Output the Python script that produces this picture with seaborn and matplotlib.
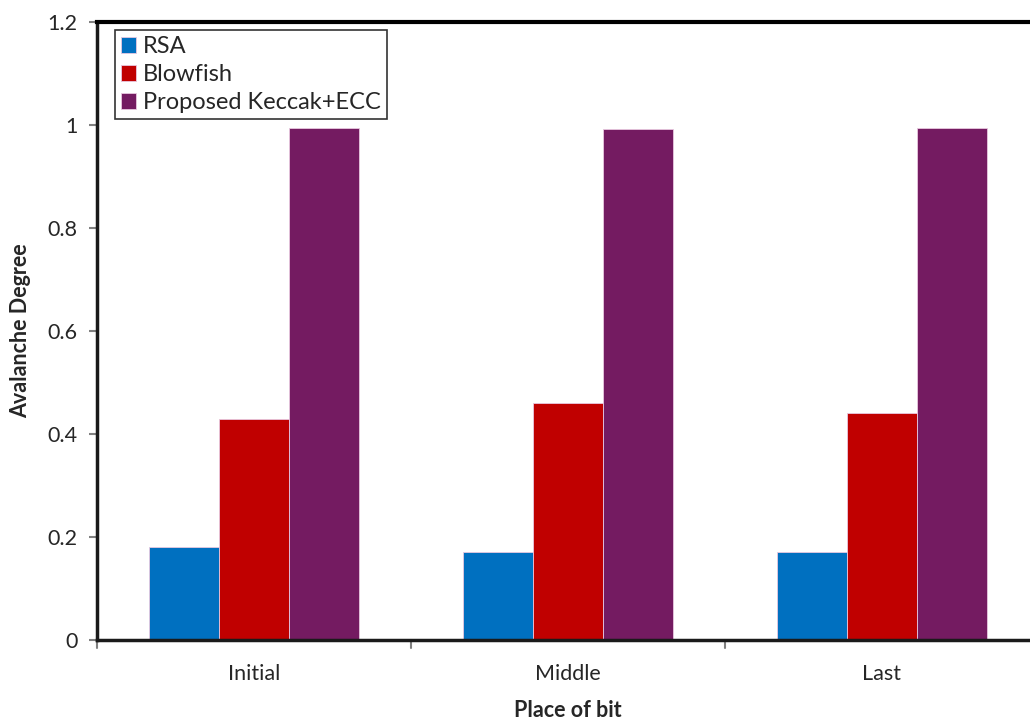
import pandas as pd
import matplotlib.pyplot as plt
import seaborn as sns

places = ["Initial", "Middle", "Last"]
methods = ["RSA", "Blowfish", "Proposed Keccak+ECC"]
rsa = [0.18, 0.17, 0.17]
blowfish = [0.43, 0.46, 0.44]
proposed = [0.995, 0.993, 0.995]
colors = ["#0070C0", "#C00000", "#741B61"]

df = pd.DataFrame({
    "Place": places * 3,
    "Method": [m for m in methods for _ in places],
    "Value": rsa + blowfish + proposed,
})

sns.set_style("white")
plt.rcParams['font.family'] = ['Lato', 'DejaVu Sans']

fig = plt.figure(figsize=(10.3, 7.24), dpi=100)
ax = fig.add_axes([97 / 1030, 1 - 640 / 724, 942 / 1030, 618 / 724])

sns.barplot(data=df, x="Place", y="Value", hue="Method", palette=colors,
            saturation=1, width=0.67, gap=0, edgecolor="#e8c8e0",
            linewidth=0.6, ax=ax)

ax.set_xlim(-0.5, 2.5)
ax.set_ylim(0, 1.2)
ax.set_yticks([0, 0.2, 0.4, 0.6, 0.8, 1, 1.2])
ax.set_yticklabels(["0", "0.2", "0.4", "0.6", "0.8", "1", "1.2"], fontsize=15.5)
ax.set_xticks([0, 1, 2])
ax.set_xticklabels(places, fontsize=15.5)
ax.tick_params(axis="x", length=0, pad=17)
ax.tick_params(axis="y", length=6, color="#808080", width=1.5, left=True, pad=8)
# group separators on the x axis
for xb in [-0.5, 0.5, 1.5]:
    ax.plot([xb, xb], [0, -0.015], color="#808080", lw=1.5, clip_on=False)

ax.set_xlabel("Place of bit", fontsize=15.5, fontweight="bold", labelpad=12)
ax.set_ylabel("Avalanche Degree", fontsize=15.5, fontweight="bold", labelpad=12)

for s in ["left", "bottom"]:
    ax.spines[s].set_color("#1a1a1a")
    ax.spines[s].set_linewidth(2.5)
ax.spines["top"].set_color("black")
ax.spines["top"].set_linewidth(3)
ax.spines["right"].set_visible(False)

leg = ax.legend(loc="upper left", bbox_to_anchor=(0.019, 0.987), fontsize=17,
                frameon=True, fancybox=False, edgecolor="black", handlelength=0.65,
                handleheight=0.65, handletextpad=0.3, labelspacing=0.3,
                borderpad=0.25, borderaxespad=0)
leg.get_frame().set_linewidth(1.2)

fig.savefig("out.png", dpi=100)
